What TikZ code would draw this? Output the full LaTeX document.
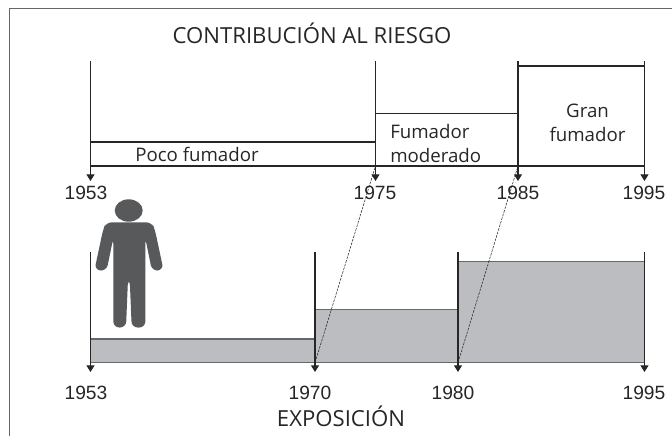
\documentclass[tikz,border=0pt]{standalone}
\usepackage{fontspec}
\setmainfont{Liberation Sans}
\newfontfamily\handfont{Open Sans}
\usetikzlibrary{arrows.meta}
\tikzset{
  axisline/.style={line width=0.8pt,draw=black!85,-{Triangle[width=6pt,length=5pt]}},
  steptop/.style={line width=0.9pt,draw=black!85},
  stepfill/.style={fill=expogray,draw=expoline,line width=0.9pt},
  linkline/.style={dashed,dash pattern=on 2pt off 0.8pt,line width=0.4pt,draw=black!85},
  yearlabel/.style={font=\fontsize{14.4}{17}\selectfont,text=black!85,inner sep=0pt},
  handlabel/.style={font=\handfont\fontsize{14}{18}\selectfont,text=black!85,inner sep=0pt},
  headlabel/.style={font=\handfont\fontsize{16.6}{20}\selectfont,text=black!85,inner sep=0pt}
}
\definecolor{expogray}{HTML}{BCBDC0}
\definecolor{expoline}{HTML}{66676A}
\definecolor{persongray}{HTML}{58595B}
\begin{document}
\begin{tikzpicture}[x=0.75pt,y=-0.75pt]
  \useasboundingbox (0,0) rectangle (672,436);
  \draw [line width=0.7pt,draw=black!60] (9.5,436) -- (9.5,8.5) -- (672,8.5);
  \node [headlabel] (title) at (312,33) {CONTRIBUCIÓN AL RIESGO};
  \node [headlabel] (expo) at (341,416) {EXPOSICIÓN};
  \foreach \x/\t in {90.5/1953,375.5/1975,518/1985,644.5/1995}{
    \coordinate (top\t) at (\x,61);
    \coordinate (foot\t) at (\x,181);
    \coordinate (base\t) at (\x,166);
  }
  \foreach \x/\t in {90.5/1953,315/1970,458/1980,644.5/1995}{
    \coordinate (ltop\t) at (\x,252);
    \coordinate (lfoot\t) at (\x,372);
    \coordinate (lbase\t) at (\x,362.7);
  }
  \draw [stepfill] (lbase1953) rectangle (lbase1970 |- 0,339);
  \draw [stepfill] (lbase1970) rectangle (lbase1980 |- 0,309.5);
  \draw [stepfill] (lbase1980) rectangle (lbase1995 |- 0,261.7);
  \foreach \t in {1953,1975,1985,1995}
    \draw [axisline] (top\t) -- (foot\t);
  \foreach \t in {1953,1970,1980,1995}
    \draw [axisline] (ltop\t) -- (lfoot\t);
  \draw [steptop] (base1953) -- (base1995);
  \draw [steptop] (base1953 |- 0,142) -- (base1975 |- 0,142);
  \draw [steptop] (base1975 |- 0,113.5) -- (base1985 |- 0,113.5);
  \draw [steptop] (base1985 |- 0,66) -- (base1995 |- 0,66);
  \draw [steptop] (base1985 |- 0,66) -- (base1985);
  \draw [steptop] (lbase1980 |- 0,261.7) -- (lbase1980);
  \draw [linkline] (lbase1970) -- (base1975);
  \draw [linkline] (lbase1980) -- (base1985);
  \node [handlabel] (poco) at (197,154) {Poco fumador};
  \node [handlabel,align=left,anchor=west] (moderado) at (390,143) {Fumador\\moderado};
  \node [handlabel,align=center] (gran) at (587.5,122.5) {Gran\\fumador};
  \node [yearlabel] (y1953) at (86,193) {1953};
  \node [yearlabel] (y1975) at (375,193) {1975};
  \node [yearlabel] (y1985) at (518,193) {1985};
  \node [yearlabel] (y1995) at (644,193) {1995};
  \node [yearlabel] (x1953) at (86,393) {1953};
  \node [yearlabel] (x1970) at (310,393) {1970};
  \node [yearlabel] (x1980) at (453,393) {1980};
  \node [yearlabel] (x1995) at (644,393) {1995};
  \fill [persongray] (128.7,210.5) ellipse (14 and 11.2);
  \fill [persongray,rounded corners=4.5] (129,222.3) -- (152,222.3) -- (155,230)
    -- (163.5,270) -- (152,271) -- (145.3,238) -- (145.3,327.5) -- (131.7,327.5)
    -- (129.7,279) -- (128,279) -- (126,327.5) -- (113.3,327.5) -- (113.3,238)
    -- (106.5,271) -- (94.5,270) -- (103,230) -- (106,222.3) -- cycle;
\end{tikzpicture}
\end{document}
